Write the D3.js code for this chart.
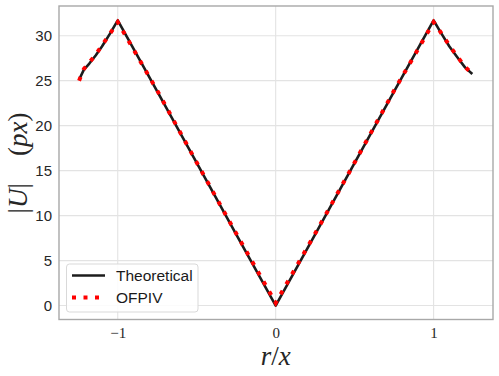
<!DOCTYPE html>
<html>
<head>
<meta charset="utf-8">
<script src="https://cdn.jsdelivr.net/npm/d3@7"></script>
<style>
  html, body { margin: 0; padding: 0; background: #fff; }
  svg { display: block; }
</style>
</head>
<body>
<div id="chart"></div>
<script>
// ---- data ----
const rx = [-1.245, -1.215, -1.18, -1.14, -1.10, -1.05, -1.0, -0.75, -0.5, -0.25, 0.0, 0.25, 0.5, 0.75, 1.0, 1.04, 1.10, 1.15, 1.20, 1.245];
const theoretical = [25.1, 26.2, 26.9, 27.8, 28.8, 30.2, 31.7, 23.8, 15.85, 7.9, 0.0, 7.9, 15.85, 23.8, 31.7, 30.5, 28.8, 27.6, 26.45, 25.75];
const ofpiv = [25.0, 26.3, 27.0, 27.9, 28.9, 30.2, 31.5, 23.9, 15.9, 8.0, 0.3, 8.0, 15.9, 23.9, 31.5, 30.5, 28.9, 27.7, 26.5, 25.8];
const xTicks = [-1, 0, 1];
const yTicks = [0, 5, 10, 15, 20, 25, 30];
const seriesNames = ["Theoretical", "OFPIV"];

// ---- layout ----
const W = 499, H = 376;
const mLeft = 59, mRight = 493, mTop = 6, mBottom = 319.5;

const svg = d3.select("#chart").append("svg").attr("width", W).attr("height", H);

const x = d3.scaleLinear().domain([-1.372, 1.376]).range([mLeft, mRight]);
const y = d3.scaleLinear().domain([-1.55, 33.3]).range([mBottom, mTop]);

// grid
const grid = svg.append("g");
grid.selectAll("line.gx").data(xTicks).enter().append("line")
  .attr("x1", d => x(d)).attr("x2", d => x(d)).attr("y1", mTop).attr("y2", mBottom)
  .attr("stroke", "#e3e3e3").attr("stroke-width", 1.1);
grid.selectAll("line.gy").data(yTicks).enter().append("line")
  .attr("y1", d => y(d)).attr("y2", d => y(d)).attr("x1", mLeft).attr("x2", mRight)
  .attr("stroke", "#e3e3e3").attr("stroke-width", 1.1);

// axes (labels only)
const xAxis = d3.axisBottom(x).tickValues(xTicks).tickSize(0).tickPadding(8)
  .tickFormat(d => d < 0 ? "\u2212" + Math.abs(d) : String(d));
const gx = svg.append("g").attr("transform", `translate(0,${mBottom})`).call(xAxis);
gx.select(".domain").remove();
gx.selectAll("text").attr("font-family", "'Liberation Serif', 'DejaVu Serif', serif")
  .attr("font-size", 15).attr("fill", "#262626");

const yAxis = d3.axisLeft(y).tickValues(yTicks).tickSize(0).tickPadding(7);
const gy = svg.append("g").attr("transform", `translate(${mLeft},0)`).call(yAxis);
gy.select(".domain").remove();
gy.selectAll("text").attr("font-family", "'Liberation Sans', Arial, sans-serif")
  .attr("font-size", 15).attr("fill", "#262626");

// lines
const pts = (vals) => rx.map((d, i) => [d, vals[i]]);
const line = d3.line().x(d => x(d[0])).y(d => y(d[1]));

svg.append("path").datum(pts(theoretical)).attr("d", line)
  .attr("fill", "none").attr("stroke", "#1c1c1c").attr("stroke-width", 2.6)
  .attr("stroke-linejoin", "round");
svg.append("path").datum(pts(ofpiv)).attr("d", line)
  .attr("fill", "none").attr("stroke", "#ff0000").attr("stroke-width", 4)
  .attr("stroke-dasharray", "4,7.5");

// spines
svg.append("rect").attr("x", mLeft).attr("y", mTop).attr("width", mRight - mLeft).attr("height", mBottom - mTop)
  .attr("fill", "none").attr("stroke", "#a8a8a8").attr("stroke-width", 1.4);

// legend
const lg = svg.append("g");
lg.append("rect").attr("x", 66.5).attr("y", 264).attr("width", 131.5).attr("height", 48).attr("rx", 3)
  .attr("fill", "rgba(255,255,255,0.85)").attr("stroke", "#d9d9d9").attr("stroke-width", 1);
const legY = [275.5, 297.5];
lg.append("line").attr("x1", 72).attr("x2", 105).attr("y1", legY[0]).attr("y2", legY[0])
  .attr("stroke", "#1c1c1c").attr("stroke-width", 2.6);
lg.append("line").attr("x1", 72).attr("x2", 105).attr("y1", legY[1]).attr("y2", legY[1])
  .attr("stroke", "#ff0000").attr("stroke-width", 4).attr("stroke-dasharray", "4,7.5");
lg.selectAll("text").data(seriesNames).enter().append("text")
  .attr("x", 116).attr("y", (d, i) => legY[i]).attr("dy", "0.36em")
  .attr("font-family", "'Liberation Sans', Arial, sans-serif").attr("font-size", 15.5)
  .attr("fill", "#1a1a1a").text(d => d);

// axis titles
const xl = svg.append("text").attr("x", x(0)).attr("y", 365).attr("text-anchor", "middle")
  .attr("font-family", "'Liberation Serif', 'DejaVu Serif', serif").attr("font-size", 27).attr("fill", "#262626");
xl.append("tspan").attr("font-style", "italic").text("r");
xl.append("tspan").text("/");
xl.append("tspan").attr("font-style", "italic").text("x");

const yl = svg.append("text").attr("transform", "translate(27,163) rotate(-90)").attr("text-anchor", "middle")
  .attr("font-family", "'Liberation Serif', 'DejaVu Serif', serif").attr("font-size", 27).attr("fill", "#262626")
  .attr("xml:space", "preserve");
yl.append("tspan").text("|");
yl.append("tspan").attr("font-style", "italic").text("U");
yl.append("tspan").text("|\u2002\u2002(");
yl.append("tspan").attr("font-style", "italic").text("px");
yl.append("tspan").text(")");
</script>
</body>
</html>
